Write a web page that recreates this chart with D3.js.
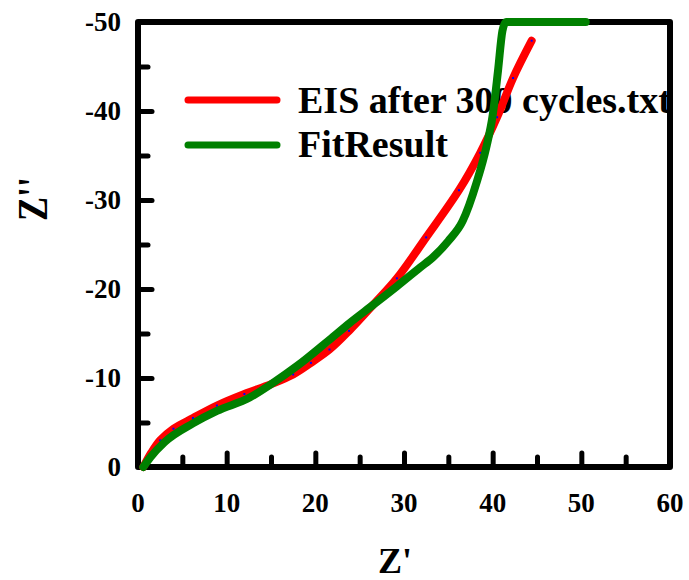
<!DOCTYPE html>
<html>
<head>
<meta charset="utf-8">
<script src="https://cdn.jsdelivr.net/npm/d3@7"></script>
<style>
  body { margin: 0; background: #fff; }
  text { font-family: "Liberation Serif", "Times New Roman", serif; font-weight: bold; }
</style>
</head>
<body>
<div id="chart"></div>
<script>
// measured impedance (Z', Z'')
var eisX = [0.6, 1.5, 2.5, 4.0, 6.2, 8.9, 12.0, 15.0, 17.5, 19.5, 21.6, 23.8, 26.5, 29.2, 32.5, 36.2, 38.6, 40.5, 42.3, 44.4];
var eisY = [0, -1.6, -3.0, -4.3, -5.5, -6.9, -8.2, -9.3, -10.4, -11.7, -13.2, -15.3, -18.2, -21.2, -25.8, -31.1, -35.3, -39.3, -43.7, -47.9];

// fitted curve
var fitX = [0.6, 1.4, 3.0, 6.2, 8.9, 12.6, 15.0, 18.0, 21.6, 23.9, 26.5, 29.2, 31.8, 33.3, 35.0, 36.6, 38.2, 39.3, 40.0, 40.6, 41.1, 41.5, 50.5];
var fitY = [0, -1.1, -2.8, -4.9, -6.3, -7.8, -9.3, -11.4, -14.3, -16.2, -18.2, -20.3, -22.4, -23.6, -25.4, -27.6, -32.0, -36.0, -39.5, -44.5, -49.0, -50, -50];

var seriesNames = ['EIS after 300 cycles.txt', 'FitResult'];
var seriesColors = ['#ff0000', '#008000'];

var xTicks = [0, 10, 20, 30, 40, 50, 60];
var xMinor = [5, 15, 25, 35, 45, 55];
var yTicks = [0, -10, -20, -30, -40, -50];
var yMinor = [-5, -15, -25, -35, -45];

var width = 689, height = 580;

var svg = d3.select('#chart')
    .append('svg')
    .attr('width', width)
    .attr('height', height);

var x = d3.scaleLinear().domain([0, 60]).range([138, 670]);
var y = d3.scaleLinear().domain([0, -50]).range([467, 22]);

var fmt = d => String(d);

// frame
svg.append('rect')
    .attr('x', x(0)).attr('y', y(-50))
    .attr('width', x(60) - x(0)).attr('height', y(0) - y(-50))
    .attr('fill', 'none').attr('stroke', '#000').attr('stroke-width', 6)
    .attr('stroke-linejoin', 'round');

// bottom axis ticks (inward)
var xAxis = d3.axisTop(x).tickValues(xTicks.slice(1, -1)).tickSize(14).tickFormat('');
var xAxisMinor = d3.axisTop(x).tickValues(xMinor).tickSize(10).tickFormat('');
[xAxis, xAxisMinor].forEach(ax => {
    var g = svg.append('g').attr('transform', `translate(0,${y(0)})`).call(ax);
    g.select('.domain').remove();
    g.selectAll('line').attr('stroke', '#000').attr('stroke-width', 5).attr('stroke-linecap', 'round');
});

// left axis ticks (inward)
var yAxis = d3.axisRight(y).tickValues(yTicks.slice(1, -1)).tickSize(14).tickFormat('');
var yAxisMinor = d3.axisRight(y).tickValues(yMinor).tickSize(10).tickFormat('');
[yAxis, yAxisMinor].forEach(ax => {
    var g = svg.append('g').attr('transform', `translate(${x(0)},0)`).call(ax);
    g.select('.domain').remove();
    g.selectAll('line').attr('stroke', '#000').attr('stroke-width', 5).attr('stroke-linecap', 'round');
});

// tick labels
svg.append('g').selectAll('text')
    .data(xTicks).enter().append('text')
    .attr('x', d => x(d)).attr('y', 512)
    .attr('text-anchor', 'middle')
    .attr('font-size', 27)
    .text(fmt);

svg.append('g').selectAll('text')
    .data(yTicks).enter().append('text')
    .attr('x', 121).attr('y', d => y(d))
    .attr('dy', '0.34em')
    .attr('text-anchor', 'end')
    .attr('font-size', 27)
    .text(fmt);

// axis titles
svg.append('text')
    .attr('x', 395).attr('y', 573)
    .attr('text-anchor', 'middle')
    .attr('font-size', 36)
    .text("Z'");

svg.append('text')
    .attr('transform', 'translate(47,199) rotate(-90) scale(1,1.2)')
    .attr('text-anchor', 'middle')
    .attr('font-size', 36)
    .text("Z''");

// legend
var legend = svg.append('g');
seriesNames.forEach((name, i) => {
    legend.append('line')
        .attr('x1', 188).attr('x2', 277)
        .attr('y1', 100 + i * 45).attr('y2', 100 + i * 45)
        .attr('stroke', seriesColors[i]).attr('stroke-width', 7)
        .attr('stroke-linecap', 'round');
    legend.append('text')
        .attr('x', 298).attr('y', 113 + i * 44)
        .attr('font-size', 38)
        .text(name);
});

// curves
var eisLine = d3.line()
    .x(d => x(d[0]))
    .y(d => y(d[1]))
    .curve(d3.curveCatmullRom.alpha(0.5));

var fitLine = d3.line()
    .x(d => x(d[0]))
    .y(d => y(d[1]))
    .curve(d3.curveMonotoneX);

var eis = eisX.map((v, i) => [v, eisY[i]]);
var fit = fitX.map((v, i) => [v, fitY[i]]);

svg.append('path')
    .datum(eis)
    .attr('d', eisLine)
    .attr('fill', 'none')
    .attr('stroke', seriesColors[0])
    .attr('stroke-width', 8)
    .attr('stroke-linecap', 'round')
    .attr('stroke-linejoin', 'round');

svg.append('g').selectAll('rect')
    .data(eis).enter().append('rect')
    .attr('x', d => x(d[0]) - 1).attr('y', d => y(d[1]) - 1)
    .attr('width', 2).attr('height', 2)
    .attr('fill', '#0000ff');

svg.append('path')
    .datum(fit)
    .attr('d', fitLine)
    .attr('fill', 'none')
    .attr('stroke', seriesColors[1])
    .attr('stroke-width', 8)
    .attr('stroke-linecap', 'round')
    .attr('stroke-linejoin', 'round');
</script>
</body>
</html>
